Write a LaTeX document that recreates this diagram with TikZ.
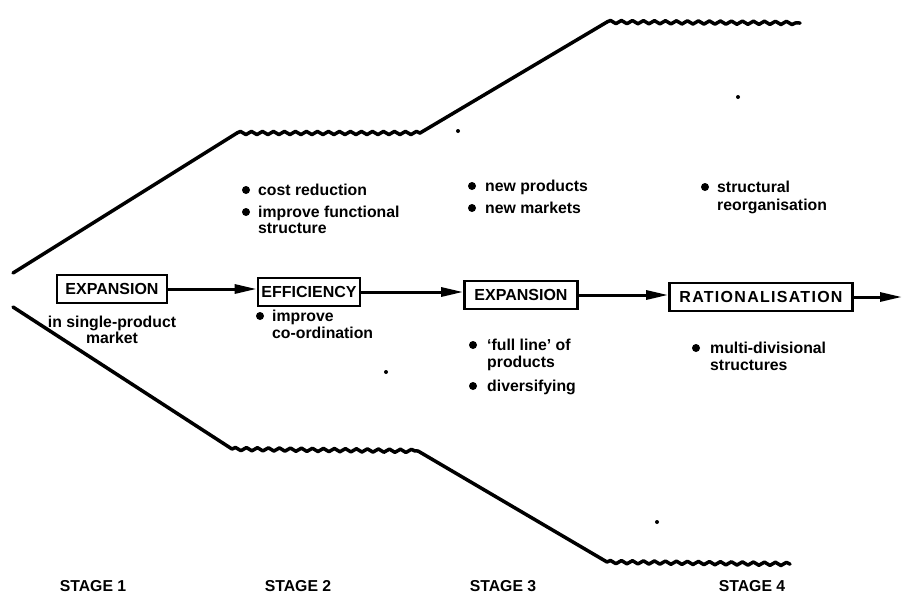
\documentclass[tikz,border=0pt]{standalone}
\usepackage{fontspec}
\setmainfont{Liberation Sans}
\usetikzlibrary{arrows.meta,decorations.pathmorphing}

\tikzset{
  outline/.style={line width=3.5pt, line join=round, line cap=round},
  wavy/.style={decorate, decoration={snake, segment length=11pt, amplitude=1.6pt}},
  stagebox/.style={draw, line width=2.6pt, minimum height=28pt, inner sep=0pt,
    font=\fontsize{16}{18}\selectfont\bfseries},
  flow/.style={line width=3pt, -{Triangle[length=22pt, width=9pt]}},
  txt/.style={anchor=base west, inner sep=0pt, font=\fontsize{15.8}{17}\selectfont\bfseries},
  ctxt/.style={anchor=base, inner sep=0pt, font=\fontsize{15.8}{17}\selectfont\bfseries},
  bullet/.style={circle, fill, inner sep=0pt, minimum size=8pt},
  speck/.style={circle, fill, inner sep=0pt, minimum size=4pt},
}

\begin{document}
\begin{tikzpicture}[x=1pt, y=-1pt]
  \useasboundingbox (0,0) rectangle (902,595);

  % upper boundary of the widening channel
  \coordinate (u0) at (13,273);
  \coordinate (u1) at (237,133);
  \coordinate (u2) at (420,133);
  \coordinate (u3) at (607,22);
  \coordinate (u4) at (800,23);
  \draw[outline] (u0) -- (u1);
  \draw[outline, wavy] (u1) -- (u2);
  \draw[outline] (u2) -- (u3);
  \draw[outline, wavy] (u3) -- (u4);

  % lower boundary
  \coordinate (l0) at (13,307);
  \coordinate (l1) at (232,449);
  \coordinate (l2) at (418,451);
  \coordinate (l3) at (607,562);
  \coordinate (l4) at (790,564);
  \draw[outline] (l0) -- (l1);
  \draw[outline, wavy] (l1) -- (l2);
  \draw[outline] (l2) -- (l3);
  \draw[outline, wavy] (l3) -- (l4);

  % the four stages
  \node[stagebox, minimum width=110pt] (exp1) at (112,289) {EXPANSION};
  \node[stagebox, minimum width=102pt] (eff)  at (309,292) {EFFICIENCY};
  \node[stagebox, minimum width=113pt] (exp2) at (521,295) {EXPANSION};
  \node[stagebox, minimum width=183pt] (rat)  at (761,297)
    {\addfontfeature{LetterSpace=8}RATIONALISATION};
  \coordinate (out) at (902,297);

  \draw[flow] (exp1.east) -- (eff.west |- exp1.east);
  \draw[flow] (eff.east) -- (exp2.west |- eff.east);
  \draw[flow] (exp2.east) -- (rat.west |- exp2.east);
  \draw[flow] (rat.east) -- (out);

  % stage 1
  \node[ctxt] (s1a) at (112,327) {in single-product};
  \node[ctxt] (s1b) at (112,343) {market};

  % stage 2
  \node[bullet] (b21) at (246,190) {};
  \node[txt] (t21) at (258,195) {cost reduction};
  \node[bullet] (b22) at (246,212) {};
  \node[txt] (t22) at (258,217) {improve functional};
  \node[txt] (t23) at (258,233) {structure};
  \node[bullet] (b23) at (260,316) {};
  \node[txt] (t24) at (272,321) {improve};
  \node[txt] (t25) at (272,338) {co-ordination};

  % stage 3
  \node[bullet] (b31) at (472,186) {};
  \node[txt] (t31) at (485,191) {new products};
  \node[bullet] (b32) at (472,208) {};
  \node[txt] (t32) at (485,213) {new markets};
  \node[bullet] (b33) at (473,345) {};
  \node[txt] (t33) at (487,350) {`full line' of};
  \node[txt] (t34) at (487,367) {products};
  \node[bullet] (b34) at (473,386) {};
  \node[txt] (t35) at (487,391) {diversifying};

  % stage 4
  \node[bullet] (b41) at (705,187) {};
  \node[txt] (t41) at (717,192) {structural};
  \node[txt] (t42) at (717,210) {reorganisation};
  \node[bullet] (b42) at (696,348) {};
  \node[txt] (t43) at (710,353) {multi-divisional};
  \node[txt] (t44) at (710,370) {structures};

  % stage captions
  \node[ctxt] (st1) at (93,591) {STAGE 1};
  \node[ctxt] (st2) at (298,591) {STAGE 2};
  \node[ctxt] (st3) at (503,591) {STAGE 3};
  \node[ctxt] (st4) at (752,591) {STAGE 4};

  % small printed specks
  \node[speck] (d1) at (738,97) {};
  \node[speck] (d2) at (458,131) {};
  \node[speck] (d3) at (386,372) {};
  \node[speck] (d4) at (657,522) {};
\end{tikzpicture}
\end{document}
